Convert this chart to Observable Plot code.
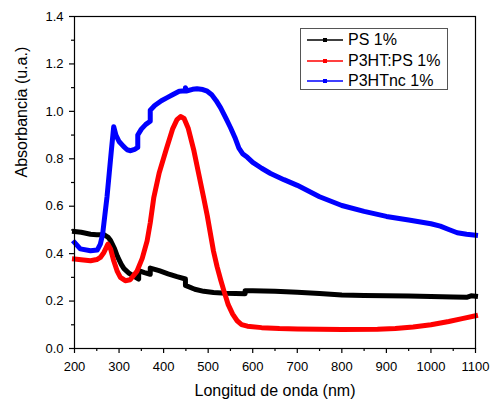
<!DOCTYPE html>
<html>
<head>
<meta charset="utf-8">
<script src="https://cdn.jsdelivr.net/npm/d3@7"></script>
<script src="https://cdn.jsdelivr.net/npm/@observablehq/plot@0.6"></script>
<style>
  html, body { margin: 0; padding: 0; background: white; }
  #wrap { position: relative; width: 494px; height: 402px; font-family: "Liberation Sans", Arial, sans-serif; }
  #legend { position: absolute; left: 300px; top: 28px; width: 148px; height: 62px; border: 1px solid #555; background: white; box-sizing: border-box; }
  .row { position: absolute; left: 0; height: 18px; line-height: 18px; font-size: 16px; color: #000; white-space: nowrap; }
  .row svg { position: absolute; left: 6px; top: 4px; }
  .row span { position: absolute; left: 47px; top: 0; }
</style>
</head>
<body>
<div id="wrap"></div>
<script>
// ---- data ----
const seriesNames = ["PS 1%", "P3HT:PS 1%", "P3HTnc 1%"];
const seriesColors = ["#000000", "#ff0000", "#0000ff"];

const psNm = [200, 215, 236, 250, 266, 275, 281, 290, 296, 305, 311, 322, 333, 344, 344, 357, 370, 370, 390, 410, 430, 449, 449, 470, 490, 512, 540, 583, 583, 600, 650, 700, 750, 800, 850, 900, 950, 1000, 1050, 1080, 1090, 1100];
const psAbs = [0.493, 0.490, 0.482, 0.480, 0.480, 0.470, 0.455, 0.420, 0.390, 0.355, 0.337, 0.318, 0.305, 0.293, 0.328, 0.320, 0.313, 0.339, 0.328, 0.315, 0.303, 0.293, 0.266, 0.250, 0.241, 0.236, 0.233, 0.231, 0.243, 0.243, 0.241, 0.237, 0.232, 0.226, 0.224, 0.222, 0.221, 0.219, 0.217, 0.216, 0.222, 0.220];

const p3htpsNm = [200, 220, 236, 250, 258, 266, 275, 281, 288, 296, 303, 314, 325, 340, 352, 363, 370, 378, 390, 406, 420, 430, 438, 446, 455, 468, 480, 490, 498, 512, 520, 528, 535, 545, 555, 565, 575, 588, 620, 660, 700, 800, 880, 920, 960, 1000, 1040, 1070, 1100];
const p3htpsAbs = [0.377, 0.373, 0.370, 0.375, 0.384, 0.405, 0.440, 0.420, 0.370, 0.325, 0.300, 0.286, 0.290, 0.325, 0.380, 0.454, 0.530, 0.637, 0.740, 0.840, 0.925, 0.965, 0.978, 0.970, 0.930, 0.834, 0.725, 0.635, 0.560, 0.410, 0.345, 0.290, 0.245, 0.185, 0.145, 0.117, 0.101, 0.094, 0.088, 0.084, 0.082, 0.080, 0.081, 0.084, 0.091, 0.100, 0.114, 0.126, 0.138];

const p3htncNm = [200, 213, 236, 251, 258, 263, 268, 273, 278, 283, 288, 293, 300, 310, 318, 326, 335, 342, 342, 350, 360, 370, 370, 380, 395, 408, 420, 435, 449, 449, 451, 465, 475, 488, 498, 508, 518, 528, 540, 550, 560, 569, 578, 588, 600, 620, 640, 670, 700, 750, 800, 850, 900, 950, 1000, 1021, 1040, 1059, 1080, 1100];
const p3htncAbs = [0.447, 0.420, 0.412, 0.415, 0.440, 0.480, 0.560, 0.640, 0.740, 0.840, 0.935, 0.900, 0.873, 0.852, 0.838, 0.834, 0.840, 0.848, 0.900, 0.925, 0.945, 0.958, 1.005, 1.025, 1.045, 1.058, 1.070, 1.085, 1.087, 1.100, 1.086, 1.093, 1.095, 1.092, 1.085, 1.070, 1.045, 1.015, 0.970, 0.932, 0.890, 0.845, 0.820, 0.806, 0.785, 0.760, 0.738, 0.712, 0.688, 0.640, 0.603, 0.578, 0.557, 0.542, 0.526, 0.516, 0.502, 0.488, 0.482, 0.478];

const xTicks = [200, 300, 400, 500, 600, 700, 800, 900, 1000, 1100];
const xMinorTicks = [250, 350, 450, 550, 650, 750, 850, 950, 1050];
const yTicks = [0.0, 0.2, 0.4, 0.6, 0.8, 1.0, 1.2, 1.4];
const yMinorTicks = [0.1, 0.3, 0.5, 0.7, 0.9, 1.1, 1.3];
const xTitle = "Longitud de onda (nm)";
const yTitle = "Absorbancia (u.a.)";

// ---- build tables ----
const mk = (nm, ab) => nm.map((x, i) => ({nm: x, a: ab[i]}));
const series = [mk(psNm, psAbs), mk(p3htpsNm, p3htpsAbs), mk(p3htncNm, p3htncAbs)];

const chart = Plot.plot({
  width: 494,
  height: 402,
  marginLeft: 74,
  marginRight: 19,
  marginTop: 16,
  marginBottom: 54,
  style: {fontFamily: "'Liberation Sans', Arial, sans-serif", fontSize: "13px", color: "black", background: "white", overflow: "visible"},
  x: {domain: [200, 1100]},
  y: {domain: [0, 1.4]},
  marks: [
    ...series.map((d, i) => Plot.line(d, {x: "nm", y: "a", stroke: seriesColors[i], strokeWidth: 5, strokeLinejoin: "round", strokeLinecap: "square"})),
    Plot.frame({stroke: "black", strokeWidth: 1.2}),
    Plot.axisX({ticks: xTicks, tickSize: 5, tickPadding: 8, label: null, tickFormat: d3.format("d"), strokeWidth: 1.2}),
    Plot.axisX({ticks: xMinorTicks, tickSize: 3, label: null, tickFormat: () => "", strokeWidth: 1.2}),
    Plot.axisY({ticks: yTicks, tickSize: 5, tickPadding: 6, label: null, tickFormat: d3.format(".1f"), strokeWidth: 1.2}),
    Plot.axisY({ticks: yMinorTicks, tickSize: 3, label: null, tickFormat: () => "", strokeWidth: 1.2}),
    Plot.text([xTitle], {text: d => d, frameAnchor: "bottom", dy: 42, fontSize: 16, lineAnchor: "middle"}),
    Plot.text([yTitle], {text: d => d, frameAnchor: "left", dx: -53, dy: -5, rotate: -90, fontSize: 16, lineAnchor: "middle"})
  ]
});

const wrap = document.getElementById("wrap");
wrap.appendChild(chart);

// legend
const legend = document.createElement("div");
legend.id = "legend";
seriesNames.forEach((name, i) => {
  const row = document.createElement("div");
  row.className = "row";
  row.style.top = (2 + i * 20.5) + "px";
  row.style.width = "146px";
  row.innerHTML = `<svg width="38" height="10"><line x1="0" y1="5" x2="36" y2="5" stroke="${seriesColors[i]}" stroke-width="1.5"/><rect x="16" y="3" width="4" height="4" fill="${seriesColors[i]}"/></svg><span>${name}</span>`;
  legend.appendChild(row);
});
wrap.appendChild(legend);
</script>
</body>
</html>
